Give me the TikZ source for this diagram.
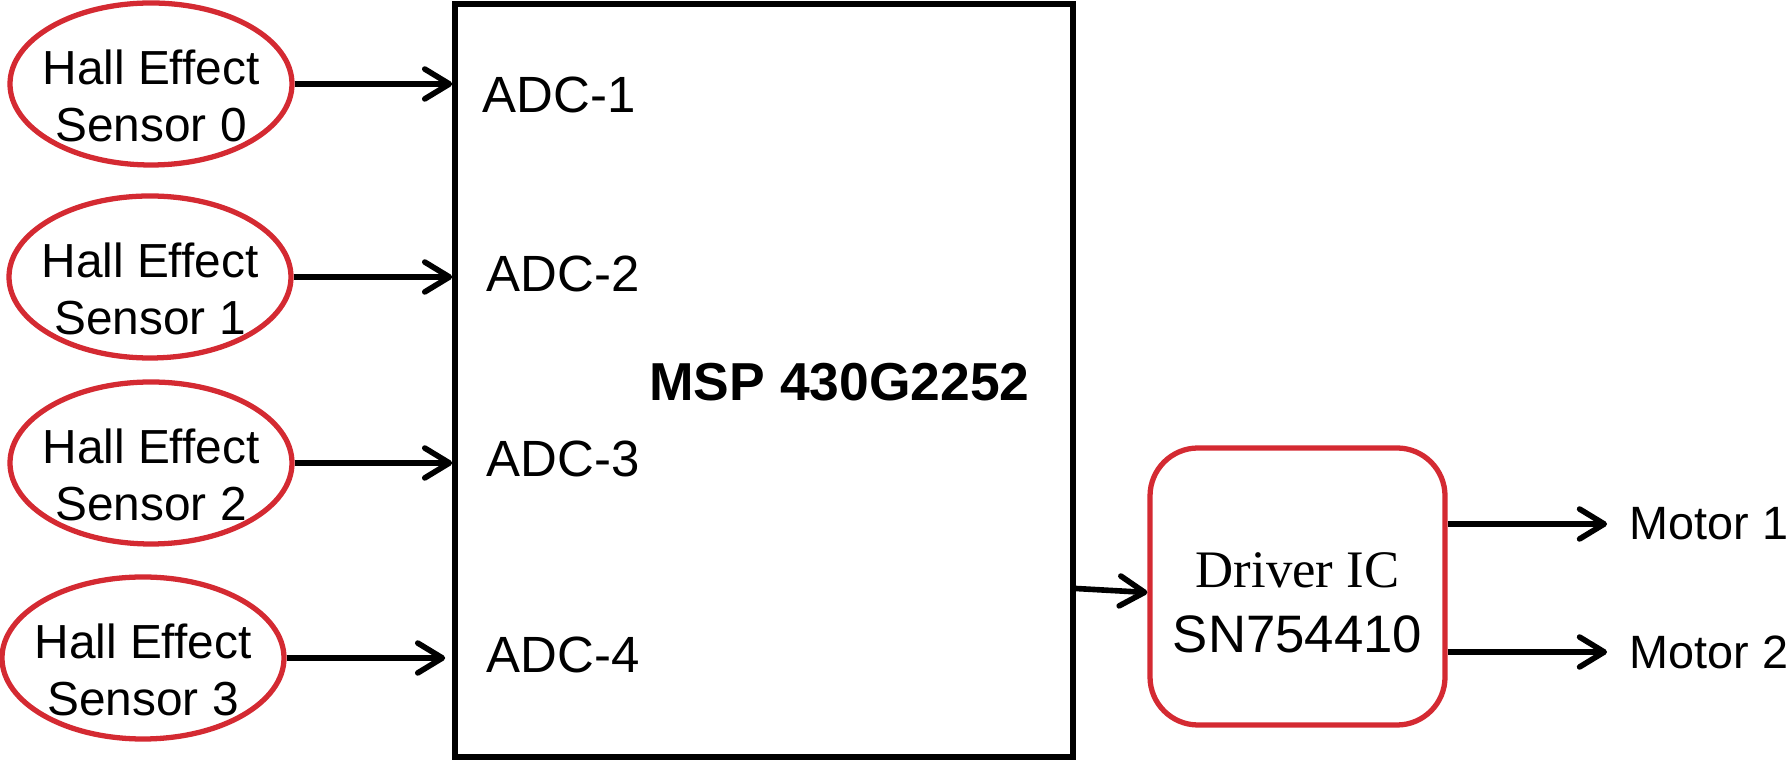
\documentclass[tikz,border=0pt]{standalone}
\usepackage{fontspec}
\setmainfont{Liberation Sans}
\newfontfamily\drvserif{Liberation Serif}
\usetikzlibrary{arrows.meta,shapes.geometric}
\definecolor{sensorred}{RGB}{212,42,50}

\begin{document}
\begin{tikzpicture}[
  sensor/.style     = {draw=sensorred, line width=1.5pt, ellipse, inner sep=0pt,
                       minimum width=2.82cm, minimum height=1.62cm},
  sensortext/.style = {font=\fontsize{13.6}{16.2}\selectfont, align=center,
                       inner sep=0pt},
                       % the ellipse is drawn empty, its two lines sit a bit low in it
  mcu/.style        = {draw, line width=1.6pt, inner sep=0pt,
                       minimum width=6.18cm, minimum height=7.53cm},
  adc/.style        = {font=\fontsize{14.5}{17}\selectfont, anchor=base west,
                       inner sep=0pt},
  chip/.style       = {font=\bfseries\fontsize{15.2}{18}\selectfont, anchor=base,
                       inner sep=0pt},
  driver/.style     = {draw=sensorred, line width=1.5pt, rounded corners=0.48cm,
                       inner sep=0pt, minimum width=2.95cm, minimum height=2.77cm},
  drvtext/.style    = {font=\fontsize{15}{18.5}\selectfont, align=center,
                       inner sep=0pt},
  motor/.style      = {font=\fontsize{13.3}{16}\selectfont, anchor=west,
                       inner xsep=0.22cm, inner ysep=0pt},
  arrow/.style      = {line width=1.6pt,
                       -{Straight Barb[length=7pt,width=8.5pt,line cap=round,line join=round]}},
]
  \useasboundingbox (0,0) rectangle (17.91,7.60);

  % the four hall sensors, down the left side
  \node[sensor] (s0) at (1.51,6.76) {};
  \node[sensor] (s1) at (1.50,4.83) {};
  \node[sensor] (s2) at (1.51,2.97) {};
  \node[sensor] (s3) at (1.43,1.02) {};
  \node[sensortext] (t0) at ([yshift=-0.12cm]s0) {Hall Effect\\Sensor 0};
  \node[sensortext] (t1) at ([yshift=-0.12cm]s1) {Hall Effect\\Sensor 1};
  \node[sensortext] (t2) at ([yshift=-0.12cm]s2) {Hall Effect\\Sensor 2};
  \node[sensortext] (t3) at ([yshift=-0.12cm]s3) {Hall Effect\\Sensor 3};

  % the microcontroller and its adc inputs
  \node[mcu] (mcu) at (7.64,3.795) {};
  \node[adc] (adc1) at (4.82,6.47) {ADC-1};
  \node[adc] (adc2) at (4.86,4.68) {ADC-2};
  \node[adc] (adc3) at (4.86,2.83) {ADC-3};
  \node[adc] (adc4) at (4.86,0.87) {ADC-4};
  \node[chip] (msp) at (8.395,3.59) {MSP 430G2252};

  \draw[arrow] (s0.east) -- (s0.east -| mcu.west);
  \draw[arrow] (s1.east) -- (s1.east -| mcu.west);
  \draw[arrow] (s2.east) -- (s2.east -| mcu.west);
  \draw[arrow] (s3.east) -- ([xshift=-0.07cm]s3.east -| mcu.west);

  % driver and the two motor outputs
  \node[driver] (drv) at (12.975,1.735) {};
  \node[drvtext] (drvlbl) at (12.975,1.57) {{\drvserif Driver IC}\\SN754410};
  \draw[arrow] ([yshift=-0.02cm]mcu.east |- drv.west) -- ([yshift=-0.06cm]drv.west);

  \node[motor] (m1) at (16.07,2.36) {Motor 1};
  \node[motor] (m2) at (16.07,1.08) {Motor 2};
  \draw[arrow] (drv.east |- m1.west) -- (m1.west);
  \draw[arrow] (drv.east |- m2.west) -- (m2.west);
\end{tikzpicture}
\end{document}
